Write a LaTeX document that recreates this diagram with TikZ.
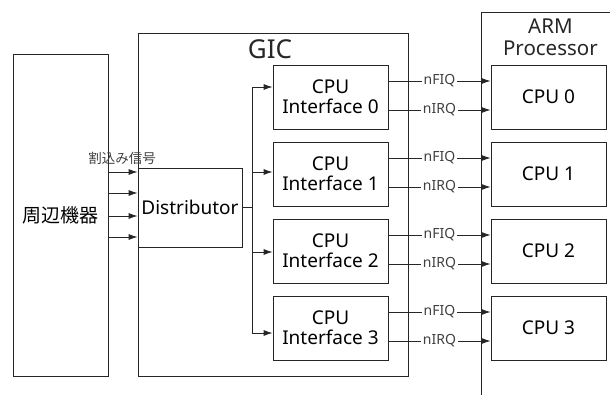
\documentclass[tikz,border=0pt]{standalone}
\usepackage{fontspec}
\setmainfont{Noto Sans}
\newfontfamily\jpfont{Noto Sans CJK JP}
\usetikzlibrary{arrows.meta}

\tikzset{
    box/.style={draw=black!85, line width=0.8pt, align=center, inner sep=0pt},
    big/.style={font=\fontsize{19}{20}\selectfont},
    sig/.style={draw=black!85, line width=0.8pt, -{Latex[length=9pt,width=6pt]}},
    siglabel/.style={fill=white, inner sep=2pt, text=black!75, font=\fontsize{14}{14}\selectfont},
}

\begin{document}
\begin{tikzpicture}[x=1pt,y=-1pt]
        \useasboundingbox (0,0) rectangle (610,394);
        \clip (0,0) rectangle (610,394);
        % Draw blocks
        \node [box, big, minimum width=95pt, minimum height=322pt] (periph) at (60.5,215) {\jpfont 周辺機器};
        \node [box, minimum width=270pt, minimum height=343pt] (gic) at (273,204.5) {};
        \node [anchor=base, font=\fontsize{26}{26}\selectfont, text=black!85] (giclabel) at (270,58) {GIC};
        \node [box, big, minimum width=104pt, minimum height=79pt] (dist) at (190,207.5) {Distributor};
        \node [box, anchor=north west, minimum width=138pt, minimum height=400pt] (arm) at (481,12) {};
        \node [anchor=north, align=center, font=\fontsize{20.5}{22}\selectfont, text=black!85] (armlabel) at ([yshift=-3pt]arm.north) {ARM\\Processor};
        % Draw interrupt inputs
        \foreach \y in {172,193,216,237} {
            \draw [sig] (periph.east |- 0,\y) -- (dist.west |- 0,\y);
        }
        \node [anchor=base, font=\jpfont\fontsize{13.5}{13.5}\selectfont, text=black!75] (irqlabel) at (122,163) {割込み信号};
        % Draw bus
        \coordinate (busmid) at (252,207.5);
        \draw [draw=black!85, line width=0.8pt] (dist.east) -- (busmid);
        % Draw interfaces and CPUs
        \foreach \i/\y/\a in {0/97/87, 1/174/172, 2/251/252, 3/328/333} {
            \node [box, big, minimum width=115pt, minimum height=64pt] (if\i) at (330.5,\y) {CPU\\Interface \i};
            \node [box, big, minimum width=115pt, minimum height=64pt] (cpu\i) at (548.5,\y) {CPU \i};
            \coordinate (bus\i) at (252,\a);
            \draw [sig] (bus\i) -- (if\i.west |- bus\i);
            \draw [sig] ([yshift=16pt]if\i.east) -- node [siglabel] {nFIQ} ([yshift=16pt]cpu\i.west);
            \draw [sig] ([yshift=-13pt]if\i.east) -- node [siglabel] {nIRQ} ([yshift=-13pt]cpu\i.west);
        }
        \draw [draw=black!85, line width=0.8pt] (bus0) -- (bus3);
    \end{tikzpicture}
\end{document}
